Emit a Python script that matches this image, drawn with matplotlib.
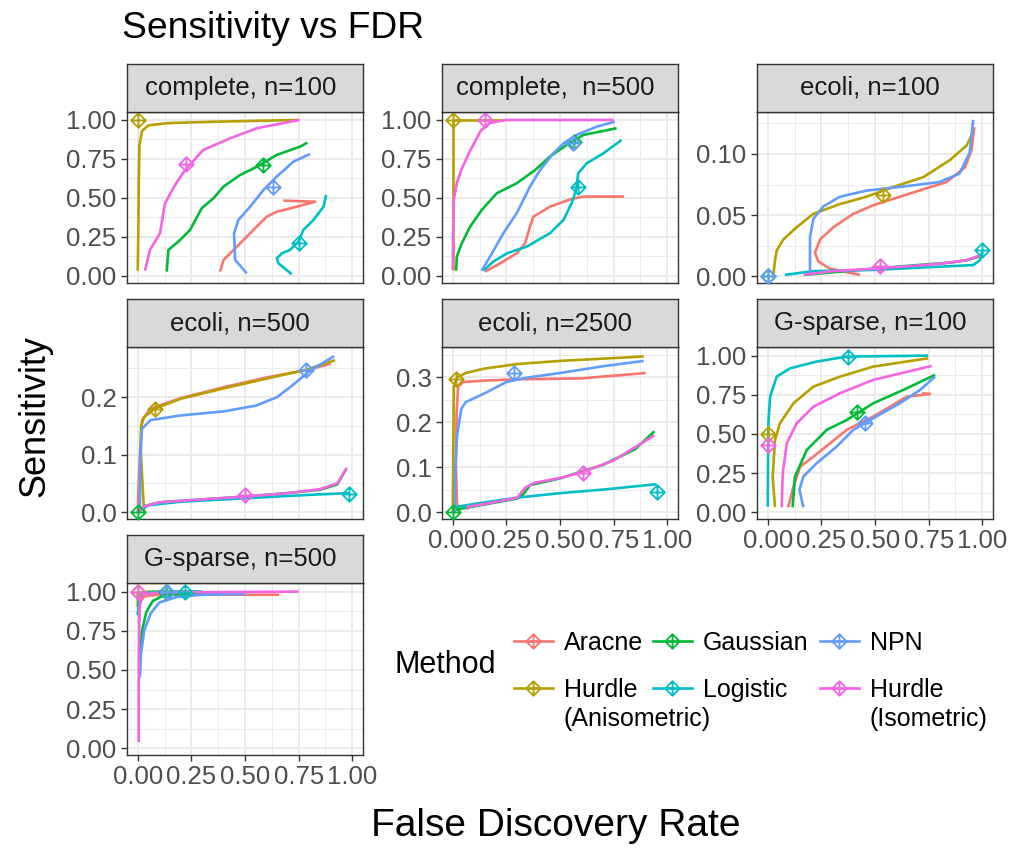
import matplotlib
matplotlib.use('Agg')
import matplotlib.pyplot as plt
from matplotlib.path import Path

plt.rcParams['font.family'] = ['Liberation Sans', 'DejaVu Sans']

# methods in factor order (also the draw order)
methods = ['Aracne', 'Hurdle (Anisometric)', 'Gaussian', 'Logistic', 'NPN', 'Hurdle (Isometric)']
colors = ['#F8766D', '#B79F00', '#00BA38', '#00BFC4', '#619CFF', '#F564E3']
legend_labels = ['Aracne', 'Hurdle\n(Anisometric)', 'Gaussian', 'Logistic', 'NPN', 'Hurdle\n(Isometric)']
panel_titles = ['complete, n=100', 'complete,  n=500', 'ecoli, n=100', 'ecoli, n=500',
                'ecoli, n=2500', 'G-sparse, n=100', 'G-sparse, n=500']

# curves: method -> (FDR, sensitivity); *_pts: method -> chosen threshold point
complete_100 = {
    'Aracne': ([0.384, 0.40, 0.462, 0.539, 0.601, 0.648, 0.741, 0.827, 0.679],
               [0.028, 0.103, 0.188, 0.295, 0.38, 0.412, 0.444, 0.476, 0.483]),
    'Hurdle (Anisometric)': ([0.0, 0.003, 0.005, 0.008, 0.02, 0.05, 0.14, 0.4, 0.75],
                             [0.034, 0.3, 0.6, 0.84, 0.93, 0.965, 0.98, 0.99, 1.0]),
    'Gaussian': ([0.135, 0.143, 0.197, 0.244, 0.298, 0.353, 0.4, 0.477, 0.555, 0.648, 0.757, 0.791],
                 [0.028, 0.167, 0.23, 0.295, 0.434, 0.498, 0.573, 0.647, 0.7, 0.776, 0.829, 0.855]),
    'Logistic': ([0.718, 0.656, 0.648, 0.672, 0.71, 0.749, 0.772, 0.819, 0.866, 0.878],
                 [0.011, 0.081, 0.113, 0.145, 0.167, 0.22, 0.295, 0.359, 0.444, 0.519]),
    'NPN': ([0.508, 0.454, 0.449, 0.469, 0.524, 0.586, 0.648, 0.726, 0.803],
            [0.017, 0.103, 0.274, 0.359, 0.444, 0.551, 0.637, 0.733, 0.782]),
    'Hurdle (Isometric)': ([0.034, 0.057, 0.104, 0.127, 0.174, 0.221, 0.306, 0.43, 0.555, 0.754],
                           [0.034, 0.167, 0.274, 0.466, 0.583, 0.68, 0.808, 0.882, 0.947, 1.0]),
}
complete_100_pts = {'Hurdle (Anisometric)': (0.0, 1.0), 'Gaussian': (0.586, 0.712),
                    'Logistic': (0.754, 0.214), 'NPN': (0.629, 0.573),
                    'Hurdle (Isometric)': (0.224, 0.718)}

complete_500 = {
    'Aracne': ([0.151, 0.221, 0.298, 0.337, 0.36, 0.376, 0.453, 0.547, 0.609, 0.798],
               [0.028, 0.081, 0.145, 0.209, 0.316, 0.38, 0.444, 0.491, 0.509, 0.509]),
    'Hurdle (Anisometric)': ([0.0, 0.0, 0.23], [0.04, 1.0, 1.0]),
    'Gaussian': ([0.016, 0.019, 0.042, 0.081, 0.135, 0.205, 0.298, 0.384, 0.453, 0.531, 0.609, 0.764],
                 [0.034, 0.124, 0.209, 0.316, 0.423, 0.53, 0.594, 0.679, 0.765, 0.84, 0.904, 0.947]),
    'Logistic': ([0.143, 0.189, 0.252, 0.345, 0.453, 0.516, 0.554, 0.575, 0.585, 0.624, 0.702, 0.787],
                 [0.034, 0.092, 0.145, 0.188, 0.274, 0.359, 0.466, 0.551, 0.658, 0.722, 0.786, 0.872]),
    'NPN': ([0.135, 0.174, 0.236, 0.298, 0.36, 0.407, 0.469, 0.516, 0.578, 0.671, 0.756],
            [0.034, 0.124, 0.274, 0.402, 0.573, 0.679, 0.786, 0.85, 0.904, 0.957, 0.989]),
    'Hurdle (Isometric)': ([0.0, 0.002, 0.005, 0.02, 0.04, 0.08, 0.13, 0.17, 0.25, 0.75],
                           [0.04, 0.3, 0.49, 0.6, 0.68, 0.8, 0.93, 0.98, 1.0, 1.0]),
}
complete_500_pts = {'Hurdle (Anisometric)': (0.0, 1.0), 'Gaussian': (0.565, 0.861),
                    'Logistic': (0.582, 0.573), 'NPN': (0.559, 0.85),
                    'Hurdle (Isometric)': (0.15, 1.0)}

ecoli_100 = {
    'Aracne': ([0.43, 0.29, 0.236, 0.22, 0.244, 0.306, 0.399, 0.492, 0.616, 0.741, 0.834, 0.919, 0.95, 0.963],
               [0.001, 0.006, 0.012, 0.019, 0.03, 0.04, 0.051, 0.058, 0.065, 0.072, 0.077, 0.089, 0.103, 0.122]),
    'Hurdle (Anisometric)': ([0.026, 0.034, 0.042, 0.073, 0.135, 0.213, 0.337, 0.461, 0.585, 0.725, 0.849, 0.927, 0.958],
                             [0.0, 0.013, 0.021, 0.03, 0.04, 0.051, 0.059, 0.065, 0.073, 0.081, 0.095, 0.107, 0.118]),
    'Gaussian': ([0.17, 0.3, 0.49, 0.7, 0.85, 0.93, 0.985],
                 [0.001, 0.003, 0.006, 0.009, 0.011, 0.013, 0.016]),
    'Logistic': ([0.081, 0.213, 0.492, 0.725, 0.958, 0.989, 1.0],
                 [0.001, 0.004, 0.005, 0.007, 0.009, 0.013, 0.02]),
    'NPN': ([0.197, 0.197, 0.213, 0.259, 0.337, 0.461, 0.616, 0.8, 0.894, 0.941, 0.958],
            [0.002, 0.032, 0.047, 0.057, 0.065, 0.07, 0.073, 0.077, 0.084, 0.101, 0.128]),
    'Hurdle (Isometric)': ([0.166, 0.3, 0.492, 0.65, 0.8, 0.927, 0.989],
                           [0.001, 0.004, 0.006, 0.008, 0.01, 0.013, 0.017]),
}
ecoli_100_pts = {'Hurdle (Anisometric)': (0.539, 0.066), 'Gaussian': (0.0, 0.0),
                 'Logistic': (1.0, 0.021), 'NPN': (0.0, 0.0),
                 'Hurdle (Isometric)': (0.523, 0.008)}

ecoli_500 = {
    'Aracne': ([0.0, 0.01, 0.02, 0.06, 0.2, 0.4, 0.6, 0.8, 0.9],
               [0.0, 0.1, 0.16, 0.18, 0.198, 0.217, 0.234, 0.248, 0.258]),
    'Hurdle (Anisometric)': ([0.03, 0.025, 0.015, 0.015, 0.03, 0.08, 0.2, 0.4, 0.6, 0.78, 0.92],
                             [0.0, 0.03, 0.1, 0.15, 0.165, 0.18, 0.197, 0.215, 0.232, 0.247, 0.264]),
    'Gaussian': ([0.0, 0.03, 0.1, 0.3, 0.5, 0.7, 0.85, 0.93, 0.97],
                 [0.0, 0.01, 0.017, 0.022, 0.027, 0.033, 0.039, 0.048, 0.074]),
    'Logistic': ([0.0, 0.05, 0.2, 0.5, 0.8, 0.985],
                 [0.0, 0.012, 0.018, 0.024, 0.03, 0.033]),
    'NPN': ([0.01, 0.012, 0.02, 0.06, 0.2, 0.4, 0.55, 0.65, 0.72, 0.8, 0.915],
            [0.0, 0.1, 0.145, 0.16, 0.168, 0.175, 0.185, 0.2, 0.22, 0.245, 0.271]),
    'Hurdle (Isometric)': ([0.0, 0.03, 0.1, 0.3, 0.5, 0.7, 0.85, 0.93, 0.975],
                           [0.0, 0.01, 0.017, 0.022, 0.027, 0.033, 0.04, 0.05, 0.077]),
}
ecoli_500_pts = {'Hurdle (Anisometric)': (0.081, 0.18), 'Gaussian': (0.0, 0.0),
                 'Logistic': (0.985, 0.032), 'NPN': (0.785, 0.247),
                 'Hurdle (Isometric)': (0.5, 0.03)}

ecoli_2500 = {
    'Aracne': ([0.03, 0.02, 0.015, 0.018, 0.025, 0.05, 0.15, 0.3, 0.6, 0.9],
               [0.0, 0.02, 0.1, 0.22, 0.28, 0.29, 0.293, 0.296, 0.298, 0.31]),
    'Hurdle (Anisometric)': ([0.0, 0.003, 0.005, 0.02, 0.06, 0.15, 0.3, 0.5, 0.7, 0.89],
                             [0.0, 0.15, 0.28, 0.3, 0.31, 0.32, 0.33, 0.337, 0.342, 0.347]),
    'Gaussian': ([0.01, 0.15, 0.3, 0.33, 0.36, 0.5, 0.7, 0.85, 0.94],
                 [0.005, 0.017, 0.03, 0.04, 0.06, 0.075, 0.105, 0.14, 0.18]),
    'Logistic': ([0.0, 0.1, 0.3, 0.5, 0.7, 0.95],
                 [0.01, 0.018, 0.032, 0.042, 0.05, 0.062]),
    'NPN': ([0.01, 0.012, 0.02, 0.04, 0.06, 0.15, 0.25, 0.35, 0.5, 0.7, 0.89],
            [0.0, 0.1, 0.17, 0.23, 0.245, 0.265, 0.29, 0.3, 0.31, 0.325, 0.337]),
    'Hurdle (Isometric)': ([0.07, 0.07, 0.15, 0.3, 0.34, 0.38, 0.5, 0.6, 0.75, 0.94],
                           [0.005, 0.012, 0.018, 0.032, 0.055, 0.065, 0.076, 0.088, 0.115, 0.171]),
}
ecoli_2500_pts = {'Hurdle (Anisometric)': (0.016, 0.296), 'Gaussian': (0.0, 0.0),
                  'Logistic': (0.95, 0.045), 'NPN': (0.286, 0.311),
                  'Hurdle (Isometric)': (0.609, 0.088)}

gsparse_100 = {
    'Aracne': ([0.096, 0.12, 0.151, 0.213, 0.29, 0.368, 0.492, 0.648, 0.756, 0.72],
               [0.032, 0.164, 0.291, 0.355, 0.44, 0.526, 0.611, 0.738, 0.755, 0.76]),
    'Hurdle (Anisometric)': ([0.034, 0.023, 0.034, 0.057, 0.12, 0.213, 0.337, 0.492, 0.748],
                             [0.032, 0.228, 0.462, 0.568, 0.696, 0.802, 0.866, 0.93, 0.983]),
    'Gaussian': ([0.116, 0.127, 0.182, 0.275, 0.368, 0.492, 0.632, 0.78],
                 [0.032, 0.228, 0.398, 0.526, 0.589, 0.696, 0.781, 0.877]),
    'Logistic': ([0.0, 0.003, 0.011, 0.042, 0.104, 0.228, 0.368, 0.748],
                 [0.036, 0.568, 0.738, 0.866, 0.919, 0.962, 0.994, 1.0]),
    'NPN': ([0.166, 0.148, 0.166, 0.228, 0.321, 0.399, 0.492, 0.616, 0.71, 0.78],
            [0.032, 0.143, 0.228, 0.313, 0.419, 0.526, 0.6, 0.696, 0.781, 0.866]),
    'Hurdle (Isometric)': ([0.065, 0.07, 0.089, 0.135, 0.213, 0.337, 0.492, 0.764],
                           [0.032, 0.249, 0.44, 0.568, 0.674, 0.76, 0.845, 0.934]),
}
gsparse_100_pts = {'Hurdle (Anisometric)': (0.0, 0.5), 'Gaussian': (0.418, 0.643),
                   'Logistic': (0.376, 0.994), 'NPN': (0.453, 0.568),
                   'Hurdle (Isometric)': (0.0, 0.43)}

gsparse_500 = {
    'Aracne': ([0.005, 0.01, 0.03, 0.1, 0.3, 0.66], [0.8, 0.93, 0.97, 0.98, 0.98, 0.98]),
    'Hurdle (Anisometric)': ([0.0, 0.0, 0.05, 0.3], [0.9, 0.99, 1.0, 1.0]),
    'Gaussian': ([0.01, 0.02, 0.04, 0.07, 0.12, 0.2, 0.4],
                 [0.6, 0.75, 0.87, 0.94, 0.975, 0.985, 0.99]),
    'Logistic': ([0.0, 0.005, 0.02, 0.1, 0.3], [0.85, 0.95, 0.99, 1.0, 1.0]),
    'NPN': ([0.01, 0.015, 0.03, 0.06, 0.1, 0.18, 0.3, 0.5],
            [0.45, 0.6, 0.75, 0.86, 0.93, 0.965, 0.98, 0.985]),
    'Hurdle (Isometric)': ([0.005, 0.005, 0.008, 0.02, 0.1, 0.75],
                           [0.04, 0.5, 0.9, 0.98, 0.995, 1.0]),
}
gsparse_500_pts = {'Hurdle (Anisometric)': (0.0, 1.0), 'Gaussian': (0.13, 1.0),
                   'Logistic': (0.22, 1.0), 'NPN': (0.135, 1.0),
                   'Hurdle (Isometric)': (0.0, 1.0)}

panels = [(complete_100, complete_100_pts), (complete_500, complete_500_pts),
          (ecoli_100, ecoli_100_pts), (ecoli_500, ecoli_500_pts),
          (ecoli_2500, ecoli_2500_pts), (gsparse_100, gsparse_100_pts),
          (gsparse_500, gsparse_500_pts)]

# y scales (free per panel)
unit_ticks = [0, 0.25, 0.5, 0.75, 1.0]
unit_minor = [0.125, 0.375, 0.625, 0.875]
y_setup = [
    ((-0.045, 1.051), unit_ticks, unit_minor, '%.2f'),
    ((-0.045, 1.051), unit_ticks, unit_minor, '%.2f'),
    ((-0.0057, 0.1344), [0, 0.05, 0.10], [0.025, 0.075, 0.125], '%.2f'),
    ((-0.012, 0.287), [0, 0.1, 0.2], [0.05, 0.15, 0.25], '%.1f'),
    ((-0.0156, 0.368), [0, 0.1, 0.2, 0.3], [0.05, 0.15, 0.25, 0.35], '%.1f'),
    ((-0.043, 1.055), unit_ticks, unit_minor, '%.2f'),
    ((-0.043, 1.055), unit_ticks, unit_minor, '%.2f'),
]
x_ticks = [0, 0.25, 0.5, 0.75, 1.0]
x_minor = [0.125, 0.375, 0.625, 0.875]
x_labels_on = [False, False, False, False, True, True, True]

# diamond with plus (ggplot shape 9)
diamond_plus = Path([(0, 1), (1, 0), (0, -1), (-1, 0), (0, 1), (0, 1), (0, -1), (-1, 0), (1, 0)],
                    [Path.MOVETO, Path.LINETO, Path.LINETO, Path.LINETO, Path.CLOSEPOLY,
                     Path.MOVETO, Path.LINETO, Path.MOVETO, Path.LINETO])

W, H = 1015, 850
fig = plt.figure(figsize=(W / 100, H / 100), dpi=100)

col_left = [127, 442, 757]
pw = 236
strip_top = [64, 299, 535]
plot_top = [112, 347, 583]
plot_bot = [283, 519, 755]

grid_col = '#EBEBEB'
dark = '#333333'

for k, (curves, pts) in enumerate(panels):
    r, c = divmod(k, 3)
    l = col_left[c] / W
    ax = fig.add_axes([l, 1 - plot_bot[r] / H, pw / W, (plot_bot[r] - plot_top[r]) / H])
    (ylim, yt, ymin, fmt) = y_setup[k]
    ax.set_xlim(-0.05, 1.05)
    ax.set_ylim(*ylim)
    ax.set_xticks(x_ticks)
    ax.set_xticks(x_minor, minor=True)
    ax.set_yticks(yt)
    ax.set_yticklabels([fmt % v for v in yt])
    ax.set_yticks(ymin, minor=True)
    ax.grid(which='major', color=grid_col, lw=1.4)
    ax.grid(which='minor', color=grid_col, lw=0.7)
    ax.set_axisbelow(True)
    ax.tick_params(which='minor', length=0)
    ax.tick_params(which='major', direction='out', length=4.5, width=1, color=dark,
                   labelcolor='#4D4D4D', labelsize=18.5, pad=3)
    if x_labels_on[k]:
        ax.set_xticklabels(['0.00', '0.25', '0.50', '0.75', '1.00'])
    else:
        ax.tick_params(axis='x', length=0, labelbottom=False)
    for s in ax.spines.values():
        s.set_color(dark)
        s.set_linewidth(1.0)

    for m, col in zip(methods, colors):
        xs, ys = curves[m]
        ax.plot(xs, ys, color=col, lw=1.9, solid_capstyle='butt', zorder=3)
    for m, col in zip(methods, colors):
        if m in pts:
            px, py = pts[m]
            ax.plot([px], [py], marker=diamond_plus, ms=10.5, mfc='none', mec=col,
                    mew=1.3, ls='none', zorder=4, clip_on=False)

    # strip
    sax = fig.add_axes([l, 1 - plot_top[r] / H, pw / W, (plot_top[r] - strip_top[r]) / H])
    sax.set_facecolor('#D9D9D9')
    sax.set_xticks([])
    sax.set_yticks([])
    for s in sax.spines.values():
        s.set_color(dark)
        s.set_linewidth(1.0)
    sax.text(0.48, 0.5, panel_titles[k], ha='center', va='center', fontsize=18.5,
             color='#1A1A1A', transform=sax.transAxes)

# titles
fig.text(122 / W, 1 - 28 / H, 'Sensitivity vs FDR', fontsize=26.8, ha='left', va='center')
fig.text(556 / W, 1 - 826 / H, 'False Discovery Rate', fontsize=28, ha='center', va='center')
fig.text(35 / W, 1 - 416 / H, 'Sensitivity', fontsize=26, ha='center', va='center',
         rotation=90)

# legend
lax = fig.add_axes([0, 0, 1, 1], facecolor='none')
lax.set_xlim(0, W)
lax.set_ylim(H, 0)
lax.axis('off')
lax.text(395, 665, 'Method', fontsize=22, ha='left', va='center')
key_x = [514, 653, 820]
row_y = [641, 688]
for i, (lab, col) in enumerate(zip(legend_labels, colors)):
    cc, rr = divmod(i, 2)
    x0 = key_x[cc]
    y0 = row_y[rr]
    lax.plot([x0, x0 + 39], [y0, y0], color=col, lw=1.9)
    lax.plot([x0 + 19.5], [y0], marker=diamond_plus, ms=10.5, mfc='none', mec=col, mew=1.3)
    for j, line in enumerate(lab.split('\n')):
        lax.text(x0 + 50, y0 + 9 + j * 29, line, fontsize=18, ha='left', va='baseline')

fig.savefig('out.png', dpi=100)
